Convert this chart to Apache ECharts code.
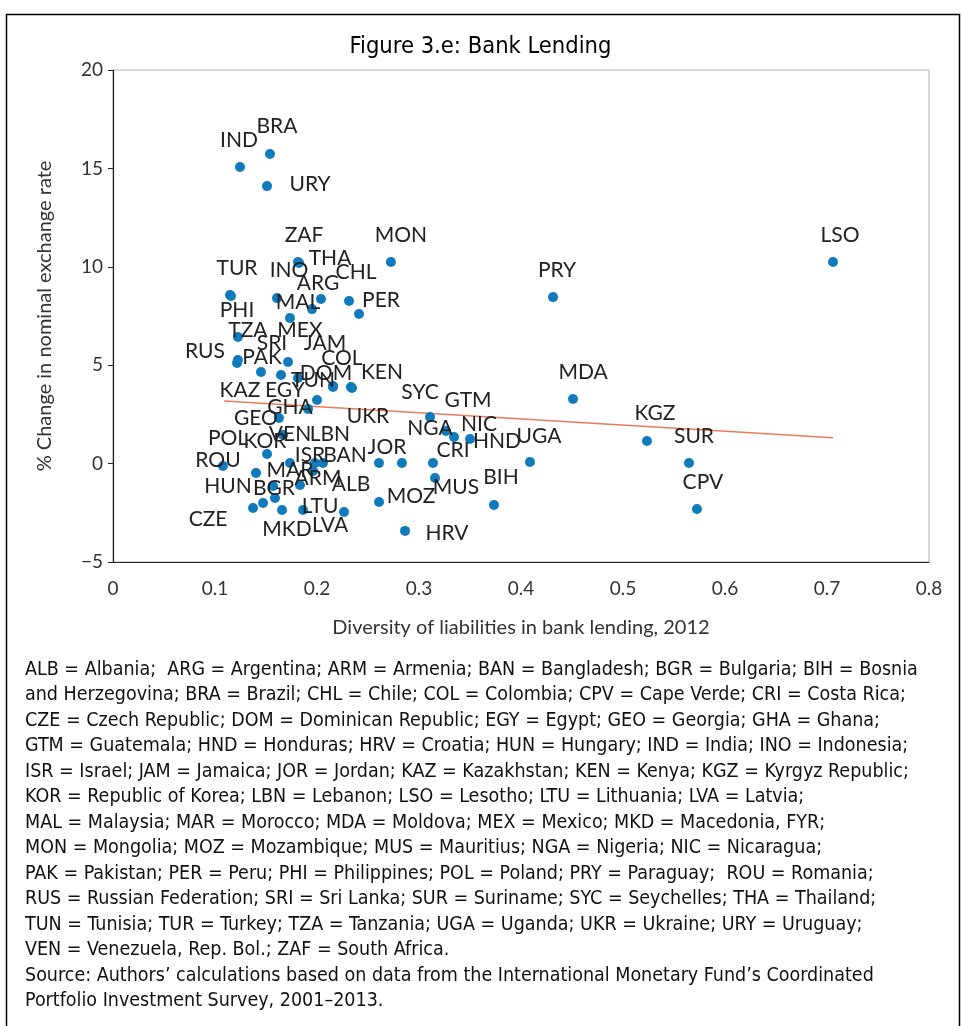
<!DOCTYPE html>
<html><head><meta charset="utf-8">
<script src="https://cdn.jsdelivr.net/npm/echarts@6/dist/echarts.min.js"></script>
<style>html,body{margin:0;padding:0;background:#fff}#c{width:961px;height:1026px}</style>
</head><body><div id="c"></div>
<script>
// ---- data ----
const codes = ["IND","BRA","URY","ZAF","THA","MON","LSO","PRY","TUR","PHI",
  "INO","ARG","CHL","MAL","PER","MEX","TZA","RUS","PAK","SRI",
  "KAZ","EGY","JAM","COL","KEN","DOM","TUN","GHA","VEN","KOR",
  "POL","ROU","ISR","LBN","BAN","ARM","JOR","NGA","CRI","UGA",
  "SUR","MAR","ALB","BGR","HUN","CZE","MKD","GEO","UKR","LTU",
  "LVA","MOZ","MUS","BIH","CPV","HRV","SYC","GTM","NIC","HND",
  "MDA","KGZ"];
const diversity = [0.1245,0.1539,0.151,0.1814,0.1824,0.2725,0.7059,0.4314,0.1147,0.1157,
  0.1608,0.2039,0.2314,0.1951,0.2412,0.1735,0.1225,0.1225,0.1216,0.1716,
  0.1451,0.1647,0.1814,0.2333,0.2343,0.2157,0.2,0.1912,0.1667,0.151,
  0.1402,0.1078,0.1735,0.198,0.2059,0.1961,0.2608,0.2833,0.3137,0.4088,
  0.5647,0.1569,0.1833,0.1588,0.1471,0.1373,0.1657,0.1627,0.2157,0.1863,
  0.2265,0.2608,0.3157,0.3735,0.5725,0.2863,0.3108,0.3265,0.3343,0.35,
  0.451,0.5235];
const fxChange = [15.07,15.73,14.10,10.24,10.19,10.24,10.24,8.46,8.57,8.52,
  8.41,8.36,8.26,7.85,7.60,7.40,6.43,5.26,5.11,5.16,
  4.65,4.50,4.35,3.89,3.84,3.94,3.23,2.78,1.45,0.49,
  -0.48,-0.12,0.03,0.03,0.03,-0.38,0.03,0.03,0.03,0.08,
  0.03,-1.14,-1.09,-1.75,-2.0,-2.26,-2.36,2.32,3.89,-2.36,
  -2.46,-1.95,-0.73,-2.10,-2.31,-3.42,2.37,1.66,1.35,1.25,
  3.28,1.15];
const trendX = [0.109, 0.706];
const trendY = [3.18, 1.31];
const yTicks = [-5, 0, 5, 10, 15, 20];
const xTicks = [0, 0.1, 0.2, 0.3, 0.4, 0.5, 0.6, 0.7, 0.8];

// ---- label placement (pixel offsets of each label centre from its dot) ----
const labelOffset = {
  IND:[-1,-27],BRA:[7,-28],URY:[43,-2],ZAF:[6,-27],THA:[31,-5],MON:[10,-27],LSO:[7,-27],PRY:[4,-27],
  TUR:[7,-27],PHI:[6,14],INO:[12,-28],ARG:[-3,-16],CHL:[7,-29],MAL:[-14,-7],PER:[22,-14],MEX:[10,12],
  TZA:[10,-7],RUS:[-33,-9],PAK:[25,-6],SRI:[-16,-19],KAZ:[-21,18],EGY:[4,15],JAM:[27,-35],
  COL:[-9,-29],KEN:[30,-16],DOM:[-7,-13],TUN:[-4,-20],GHA:[-18,-2],VEN:[7,-1],KOR:[-2,-13],
  POL:[-28,-35],ROU:[-5,-6],ISR:[20,-8],LBN:[15,-29],BAN:[22,-8],ARM:[5,7],JOR:[8,-16],NGA:[28,-35],
  CRI:[20,-13],UGA:[9,-26],SUR:[5,-27],MAR:[17,-16],ALB:[51,-1],BGR:[-1,-10],HUN:[-35,-17],
  CZE:[-45,11],MKD:[5,19],GEO:[-23,0],UKR:[35,29],LTU:[17,-4],LVA:[-14,13],MOZ:[32,-6],MUS:[21,9],
  BIH:[7,-28],CPV:[6,-27],HRV:[42,2],SYC:[-10,-25],GTM:[22,-31],NIC:[25,-13],HND:[27,2],
  MDA:[10,-27],KGZ:[8,-28]
};

const footnote = [
"ALB = Albania;  ARG = Argentina; ARM = Armenia; BAN = Bangladesh; BGR = Bulgaria; BIH = Bosnia",
"and Herzegovina; BRA = Brazil; CHL = Chile; COL = Colombia; CPV = Cape Verde; CRI = Costa Rica;",
"CZE = Czech Republic; DOM = Dominican Republic; EGY = Egypt; GEO = Georgia; GHA = Ghana;",
"GTM = Guatemala; HND = Honduras; HRV = Croatia; HUN = Hungary; IND = India; INO = Indonesia;",
"ISR = Israel; JAM = Jamaica; JOR = Jordan; KAZ = Kazakhstan; KEN = Kenya; KGZ = Kyrgyz Republic;",
"KOR = Republic of Korea; LBN = Lebanon; LSO = Lesotho; LTU = Lithuania; LVA = Latvia;",
"MAL = Malaysia; MAR = Morocco; MDA = Moldova; MEX = Mexico; MKD = Macedonia, FYR;",
"MON = Mongolia; MOZ = Mozambique; MUS = Mauritius; NGA = Nigeria; NIC = Nicaragua;",
"PAK = Pakistan; PER = Peru; PHI = Philippines; POL = Poland; PRY = Paraguay;  ROU = Romania;",
"RUS = Russian Federation; SRI = Sri Lanka; SUR = Suriname; SYC = Seychelles; THA = Thailand;",
"TUN = Tunisia; TUR = Turkey; TZA = Tanzania; UGA = Uganda; UKR = Ukraine; URY = Uruguay;",
"VEN = Venezuela, Rep. Bol.; ZAF = South Africa.",
"Source: Authors\u2019 calculations based on data from the International Monetary Fund\u2019s Coordinated",
"Portfolio Investment Survey, 2001\u20132013."
];

// ---- build ----
const pts = codes.map((c, i) => ({ name: c, value: [diversity[i], fxChange[i]] }));
const trend = trendX.map((x, i) => [x, trendY[i]]);

const labelFont = 'Lato, "Open Sans", sans-serif';
const noteFont = '"DejaVu Sans Condensed", "Liberation Sans Narrow", sans-serif';

const chart = echarts.init(document.getElementById('c'), null, {renderer: 'canvas'});
chart.setOption({
  animation: false,
  backgroundColor: '#fff',
  title: {
    text: 'Figure 3.e: Bank Lending',
    left: 'center', top: 30,
    textStyle: { fontFamily: noteFont, fontSize: 23.5, fontWeight: 'normal', color: '#000' }
  },
  grid: { left: 113, right: 32, top: 70, bottom: 464, show: true, borderColor: '#b0b0b0', borderWidth: 1 },
  xAxis: {
    type: 'value', min: 0, max: 0.8, interval: 0.1,
    name: 'Diversity of liabilities in bank lending, 2012',
    nameLocation: 'middle', nameGap: 56,
    nameTextStyle: { fontFamily: labelFont, fontSize: 20, color: '#333' },
    axisLine: { show: true, onZero: false, lineStyle: { color: '#222', width: 1.2 } },
    axisTick: { show: false },
    splitLine: { show: false },
    axisLabel: { margin: 17, fontFamily: labelFont, fontSize: 19, color: '#333',
      formatter: v => { const t = xTicks.find(k => Math.abs(k - v) < 1e-9); return t === undefined ? '' : String(t); } }
  },
  yAxis: {
    type: 'value', min: -5, max: 20, interval: 5,
    name: '% Change in nominal exchange rate',
    nameLocation: 'middle', nameGap: 58, nameRotate: 90,
    nameTextStyle: { fontFamily: labelFont, fontSize: 20, color: '#333' },
    axisLine: { show: true, onZero: false, lineStyle: { color: '#222', width: 1.2 } },
    axisTick: { show: true, length: 5, lineStyle: { color: '#222' } },
    splitLine: { show: false },
    axisLabel: { margin: 10, fontFamily: labelFont, fontSize: 19, color: '#333',
      formatter: v => { const t = yTicks.find(k => Math.abs(k - v) < 1e-9); return t === undefined ? '' : (t < 0 ? '\u2212' + Math.abs(t) : String(t)); } }
  },
  series: [
    {
      type: 'line', data: trend, symbol: 'none', silent: true, z: 1,
      lineStyle: { color: '#ec7a5c', width: 1.5 }
    },
    {
      type: 'scatter', data: pts, symbolSize: 10, z: 2,
      itemStyle: { color: '#0f7bbd', opacity: 1 },
      label: {
        show: true, position: 'inside', formatter: p => p.name,
        fontFamily: labelFont, fontSize: 21, color: '#222'
      },
      labelLayout: function (params) {
        const off = labelOffset[codes[params.dataIndex]] || [0, -26];
        return { dx: off[0], dy: off[1], hideOverlap: false };
      }
    }
  ],
  graphic: [
    { type: 'rect', left: 4, top: 12, z: -1, silent: true,
      shape: { width: 953, height: 1100 },
      style: { fill: 'none', stroke: '#000', lineWidth: 1.5 } },
    { type: 'text', left: 25, top: 657, silent: true,
      style: { text: footnote.join('\n'), fontFamily: noteFont, fontSize: 19.5, lineHeight: 25.5, fill: '#111' } }
  ]
});
</script></body></html>
